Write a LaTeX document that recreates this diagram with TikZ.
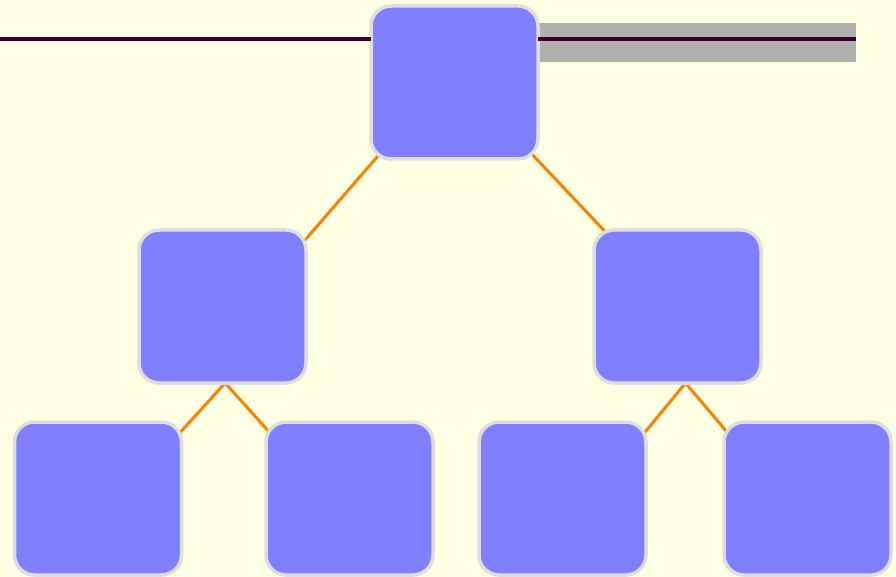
\documentclass[tikz,border=0pt]{standalone}
\usetikzlibrary{backgrounds,calc}
\definecolor{paper}{RGB}{255,255,228}
\definecolor{boxfill}{RGB}{128,128,255}
\definecolor{boxline}{RGB}{222,222,222}
\definecolor{linkcol}{RGB}{255,128,0}
\definecolor{railcol}{RGB}{60,0,50}
\definecolor{bandcol}{RGB}{176,176,176}
\begin{document}
\begin{tikzpicture}[x=1pt,y=-1pt,
  treebox/.style={draw=boxline, line width=3.5pt, fill=boxfill,
    rounded corners=20pt, minimum width=167pt, minimum height=153pt,
    inner sep=0pt, outer sep=0pt},
  link/.style={draw=linkcol, line width=3pt,
    shorten <=-8pt, shorten >=-8pt},
  rail/.style={draw=railcol, line width=4pt},
  band/.style={fill=bandcol}]

\useasboundingbox (0,0) rectangle (896,577);

% tree nodes
\node[treebox] (top) at (454.5,82.5) {};
\node[treebox] (l)   at (222.5,306.5) {};
\node[treebox] (r)   at (677.5,306.5) {};
\node[treebox] (ll)  at (98,498.5) {};
\node[treebox] (lr)  at (349.5,498.5) {};
\node[treebox] (rl)  at (562.5,498.5) {};
\node[treebox] (rr)  at (807.5,498.5) {};

% free ends of the horizontal rail
\coordinate (railL) at (-2,39.5);
\coordinate (railR) at (855.5,39.5);

\begin{scope}[on background layer]
  \fill[paper] (0,0) rectangle (896,577);
  % grey band behind the right half of the rail
  \path[band] (top.east |- 0,22.7) rectangle (856,61.7);
  % parent-child links, tucked under the boxes
  \draw[link] (top.224.2) -- (l.39.7);
  \draw[link] (top.317.7) -- (r.134.6);
  \draw[link] (l.-88.2) -- (ll.39);
  \draw[link] (l.-88.2) -- (lr.140.8);
  \draw[link] (r.-84.5) -- (rl.39.3);
  \draw[link] (r.-84.5) -- (rr.140.4);
\end{scope}

% rail
\draw[rail] (railL) -- (railL -| top.west);
\draw[rail] (railR -| top.east) -- (railR);
\end{tikzpicture}
\end{document}
